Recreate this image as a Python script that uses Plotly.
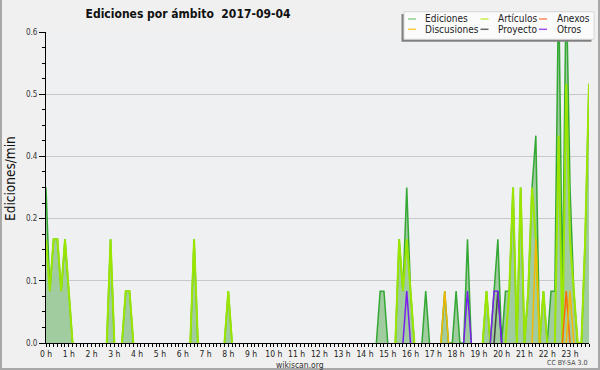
import plotly.graph_objects as go

# ---- data: 10-minute bins from 00:00 to 23:50 (value = edits per minute) ----
ediciones = [
    0.3, 0.1, 0.2, 0.2, 0.1, 0.2, 0.1, 0, 0, 0, 0, 0,
    0, 0, 0, 0, 0, 0.2, 0, 0, 0, 0.1, 0.1, 0,
    0, 0, 0, 0, 0, 0, 0, 0, 0, 0, 0, 0,
    0, 0, 0, 0.2, 0, 0, 0, 0, 0, 0, 0, 0,
    0.1, 0, 0, 0, 0, 0, 0, 0, 0, 0, 0, 0,
    0, 0, 0, 0, 0, 0, 0, 0, 0, 0, 0, 0,
    0, 0, 0, 0, 0, 0, 0, 0, 0, 0, 0, 0,
    0, 0, 0, 0, 0.1, 0.1, 0, 0, 0, 0.2, 0.1, 0.3,
    0.1, 0, 0, 0, 0.1, 0, 0, 0, 0, 0.1, 0, 0,
    0.1, 0, 0, 0.2, 0, 0, 0, 0, 0.1, 0, 0.1, 0.2,
    0, 0.1, 0.1, 0.3, 0, 0.3, 0, 0.1, 0.3, 0.4, 0, 0.1,
    0, 0.1, 0.1, 0.7, 0.1, 0.7, 0.3, 0.1, 0, 0, 0.2, 0.5,
]
articulos = [
    0.2, 0.1, 0.2, 0.2, 0.1, 0.2, 0.1, 0, 0, 0, 0, 0,
    0, 0, 0, 0, 0, 0.2, 0, 0, 0, 0.1, 0.1, 0,
    0, 0, 0, 0, 0, 0, 0, 0, 0, 0, 0, 0,
    0, 0, 0, 0.2, 0, 0, 0, 0, 0, 0, 0, 0,
    0.1, 0, 0, 0, 0, 0, 0, 0, 0, 0, 0, 0,
    0, 0, 0, 0, 0, 0, 0, 0, 0, 0, 0, 0,
    0, 0, 0, 0, 0, 0, 0, 0, 0, 0, 0, 0,
    0, 0, 0, 0, 0, 0, 0, 0, 0, 0.2, 0.1, 0.2,
    0.1, 0, 0, 0, 0, 0, 0, 0, 0, 0, 0, 0,
    0, 0, 0, 0, 0, 0, 0, 0, 0.1, 0, 0, 0,
    0, 0, 0.1, 0.3, 0, 0.3, 0, 0.1, 0.3, 0.2, 0, 0.1,
    0, 0, 0, 0.4, 0, 0.5, 0.2, 0.1, 0, 0, 0.2, 0.5,
]
anexos = [
    0, 0, 0, 0, 0, 0, 0, 0, 0, 0, 0, 0,
    0, 0, 0, 0, 0, 0, 0, 0, 0, 0, 0, 0,
    0, 0, 0, 0, 0, 0, 0, 0, 0, 0, 0, 0,
    0, 0, 0, 0, 0, 0, 0, 0, 0, 0, 0, 0,
    0, 0, 0, 0, 0, 0, 0, 0, 0, 0, 0, 0,
    0, 0, 0, 0, 0, 0, 0, 0, 0, 0, 0, 0,
    0, 0, 0, 0, 0, 0, 0, 0, 0, 0, 0, 0,
    0, 0, 0, 0, 0, 0, 0, 0, 0, 0, 0, 0,
    0, 0, 0, 0, 0, 0, 0, 0, 0, 0, 0, 0,
    0, 0, 0, 0, 0, 0, 0, 0, 0, 0, 0, 0,
    0, 0, 0, 0, 0, 0, 0, 0, 0, 0, 0, 0,
    0, 0, 0, 0, 0, 0.1, 0, 0, 0, 0, 0, 0,
]
discusiones = [
    0, 0, 0, 0, 0, 0, 0, 0, 0, 0, 0, 0,
    0, 0, 0, 0, 0, 0, 0, 0, 0, 0, 0, 0,
    0, 0, 0, 0, 0, 0, 0, 0, 0, 0, 0, 0,
    0, 0, 0, 0, 0, 0, 0, 0, 0, 0, 0, 0,
    0, 0, 0, 0, 0, 0, 0, 0, 0, 0, 0, 0,
    0, 0, 0, 0, 0, 0, 0, 0, 0, 0, 0, 0,
    0, 0, 0, 0, 0, 0, 0, 0, 0, 0, 0, 0,
    0, 0, 0, 0, 0, 0, 0, 0, 0, 0, 0, 0,
    0, 0, 0, 0, 0, 0, 0, 0, 0, 0.1, 0, 0,
    0, 0, 0, 0, 0, 0, 0, 0, 0, 0, 0, 0,
    0, 0, 0, 0, 0, 0, 0, 0, 0, 0.2, 0, 0,
    0, 0, 0, 0, 0, 0, 0.1, 0, 0, 0, 0, 0,
]
proyecto = [
    0, 0, 0, 0, 0, 0, 0, 0, 0, 0, 0, 0,
    0, 0, 0, 0, 0, 0, 0, 0, 0, 0, 0, 0,
    0, 0, 0, 0, 0, 0, 0, 0, 0, 0, 0, 0,
    0, 0, 0, 0, 0, 0, 0, 0, 0, 0, 0, 0,
    0, 0, 0, 0, 0, 0, 0, 0, 0, 0, 0, 0,
    0, 0, 0, 0, 0, 0, 0, 0, 0, 0, 0, 0,
    0, 0, 0, 0, 0, 0, 0, 0, 0, 0, 0, 0,
    0, 0, 0, 0, 0, 0, 0, 0, 0, 0, 0, 0,
    0, 0, 0, 0, 0, 0, 0, 0, 0, 0, 0, 0,
    0, 0, 0, 0, 0, 0, 0, 0, 0, 0, 0, 0.1,
    0, 0, 0, 0, 0, 0, 0, 0, 0, 0, 0, 0,
    0, 0, 0, 0, 0, 0, 0, 0, 0, 0, 0, 0,
]
otros = [
    0, 0, 0, 0, 0, 0, 0, 0, 0, 0, 0, 0,
    0, 0, 0, 0, 0, 0, 0, 0, 0, 0, 0, 0,
    0, 0, 0, 0, 0, 0, 0, 0, 0, 0, 0, 0,
    0, 0, 0, 0, 0, 0, 0, 0, 0, 0, 0, 0,
    0, 0, 0, 0, 0, 0, 0, 0, 0, 0, 0, 0,
    0, 0, 0, 0, 0, 0, 0, 0, 0, 0, 0, 0,
    0, 0, 0, 0, 0, 0, 0, 0, 0, 0, 0, 0,
    0, 0, 0, 0, 0, 0, 0, 0, 0, 0, 0, 0.1,
    0, 0, 0, 0, 0, 0, 0, 0, 0, 0, 0, 0,
    0, 0, 0, 0.1, 0, 0, 0, 0, 0, 0, 0.1, 0.1,
    0, 0, 0, 0, 0, 0, 0, 0, 0, 0, 0, 0,
    0, 0, 0, 0, 0, 0, 0, 0, 0, 0, 0, 0,
]

y_tickvals = [0, 0.12, 0.24, 0.36, 0.48, 0.6]
y_ticktext = ["0.0", "0.1", "0.2", "0.4", "0.5", "0.6"]
title_text = "Ediciones por ámbito\u00a0\u00a02017-09-04"

hours = [i / 6 for i in range(len(ediciones))]

def trim(v):
    """hide flat zero runs so lines only show around non-zero bins"""
    n = len(v)
    return [v[i] if (v[i] > 0 or (i > 0 and v[i - 1] > 0) or (i < n - 1 and v[i + 1] > 0)) else None
            for i in range(n)]

FONT = "DejaVu Sans Condensed, DejaVu Sans, sans-serif"
W, H = 600, 370
L, R, T, B = 46, 11, 32, 27
PW, PH = W - L - R, H - T - B

def px(X):
    return (X - L) / PW

def py(Y):
    return (H - B - Y) / PH

fig = go.Figure()
fig.add_trace(go.Scatter(x=hours, y=ediciones, mode="lines", line=dict(width=0),
                         fill="tozeroy", fillcolor="rgb(160,204,160)", showlegend=False, hoverinfo="skip"))
fig.add_trace(go.Scatter(x=hours, y=trim(ediciones), mode="lines", name="Ediciones",
                         line=dict(color="#34a834", width=1.5), showlegend=False))
fig.add_trace(go.Scatter(x=hours, y=trim(articulos), mode="lines", name="Artículos",
                         line=dict(color="#9be600", width=2), showlegend=False))
fig.add_trace(go.Scatter(x=hours, y=trim(anexos), mode="lines", name="Anexos",
                         line=dict(color="#ff6a00", width=1.5), showlegend=False))
fig.add_trace(go.Scatter(x=hours, y=trim(discusiones), mode="lines", name="Discusiones",
                         line=dict(color="#f5b800", width=1.5), showlegend=False))
fig.add_trace(go.Scatter(x=hours, y=trim(proyecto), mode="lines", name="Proyecto",
                         line=dict(color="#444444", width=1.5), showlegend=False))
fig.add_trace(go.Scatter(x=hours, y=trim(otros), mode="lines", name="Otros",
                         line=dict(color="#7a1ff0", width=1.5), showlegend=False))

shapes = []
annotations = []

# legend box with shadow
shapes.append(dict(type="rect", xref="paper", yref="paper", layer="above",
                   x0=px(401.5), x1=px(591.5), y0=py(41.8), y1=py(14),
                   fillcolor="#808080", line=dict(width=0)))
shapes.append(dict(type="rect", xref="paper", yref="paper", layer="above",
                   x0=px(404), x1=px(594), y0=py(39.3), y1=py(11.7),
                   fillcolor="#fbfbfb", line=dict(color="#d6d6d6", width=1)))
legend_entries = [
    ("Ediciones", "#8fd08f", 0, 0), ("Artículos", "#c8ec50", 1, 0), ("Anexos", "#ff8a5c", 2, 0),
    ("Discusiones", "#ffcc40", 0, 1), ("Proyecto", "#666666", 1, 1), ("Otros", "#9a55ee", 2, 1),
]
sym_x = [408, 480.5, 539]
txt_x = [423.5, 496, 555]
row_y = [19, 29.3]
for name, col, c, r in legend_entries:
    shapes.append(dict(type="line", xref="paper", yref="paper", layer="above",
                       x0=px(sym_x[c]), x1=px(sym_x[c] + 8), y0=py(row_y[r]), y1=py(row_y[r]),
                       line=dict(color=col, width=1.5)))
    annotations.append(dict(text=name, xref="paper", yref="paper", x=px(txt_x[c]), y=py(row_y[r]),
                            xanchor="left", yanchor="middle", showarrow=False,
                            font=dict(family=FONT, size=10, color="#222")))

# outer frame
for x0, y0, x1, y1 in [(1, 0, 1, 370), (0, 369, 600, 369), (599, 0, 599, 370)]:
    shapes.append(dict(type="line", xref="paper", yref="paper", layer="above",
                       x0=px(x0), x1=px(x1), y0=py(y0), y1=py(y1),
                       line=dict(color="#a8a8a8", width=2)))

annotations.append(dict(text="Ediciones/min", xref="paper", yref="paper", x=px(10), y=py(179),
                        textangle=-90, showarrow=False, xanchor="center", yanchor="middle",
                        font=dict(family=FONT, size=13.5, color="#111")))
annotations.append(dict(text="wikiscan.org", xref="paper", yref="paper", x=px(300), y=py(364.5),
                        showarrow=False, xanchor="center", yanchor="middle",
                        font=dict(family=FONT, size=8.5, color="#333")))
annotations.append(dict(text="CC BY-SA 3.0", xref="paper", yref="paper", x=px(589), y=py(363.5),
                        showarrow=False, xanchor="right", yanchor="middle",
                        font=dict(family=FONT, size=7, color="#444")))

fig.update_layout(
    width=W, height=H,
    margin=dict(l=L, r=R, t=T, b=B, pad=0),
    paper_bgcolor="#f0f0f0",
    plot_bgcolor="#eef0f2",
    title=dict(text="<b>" + title_text + "</b>", x=188 / W, xref="container", xanchor="center",
               y=1 - 14 / H, yref="container", yanchor="middle",
               font=dict(family=FONT, size=12, color="#111")),
    shapes=shapes,
    annotations=annotations,
    showlegend=False,
    hovermode=False,
    xaxis=dict(range=[0, hours[-1]], tick0=0, dtick=1, ticksuffix=" h",
               ticks="outside", ticklen=3, tickcolor="black", tickwidth=1,
               showline=True, linecolor="black", linewidth=1,
               showgrid=False, zeroline=False,
               tickfont=dict(family=FONT, size=8.5, color="#222"),
               minor=dict(tick0=0, dtick=1 / 6, ticks="outside", ticklen=3,
                          tickcolor="black", showgrid=False)),
    yaxis=dict(range=[0, 0.6], tickmode="array", tickvals=y_tickvals, ticktext=y_ticktext,
               ticks="outside", ticklen=6, tickcolor="black", tickwidth=1,
               showline=True, linecolor="black", linewidth=1,
               showgrid=True, gridcolor="#c8c8c8", gridwidth=1, zeroline=False,
               tickfont=dict(family=FONT, size=8, color="#333"),
               minor=dict(tickmode="array",
                          tickvals=[k * 0.03 for k in range(21) if k % 4],
                          ticks="outside", ticklen=3, tickcolor="black", showgrid=False)),
)

fig.write_html("out.html", config={"displayModeBar": False},
               post_script="document.body.style.margin='0';document.body.style.padding='0';"
                           "document.body.style.overflow='hidden';")
